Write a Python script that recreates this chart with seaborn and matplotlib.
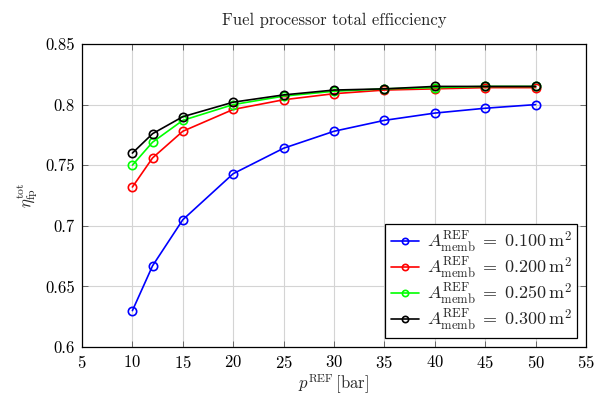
import pandas as pd
import seaborn as sns
import matplotlib.pyplot as plt
from matplotlib.ticker import FuncFormatter, MultipleLocator

# pressure points [bar]
p_ref = [10, 12, 15, 20, 25, 30, 35, 40, 45, 50]

# total efficiency per membrane area
eta_a100 = [0.630, 0.667, 0.705, 0.743, 0.764, 0.778, 0.787, 0.793, 0.797, 0.800]
eta_a200 = [0.732, 0.756, 0.778, 0.796, 0.804, 0.809, 0.812, 0.813, 0.814, 0.814]
eta_a250 = [0.750, 0.769, 0.787, 0.800, 0.807, 0.811, 0.813, 0.814, 0.815, 0.815]
eta_a300 = [0.760, 0.776, 0.790, 0.802, 0.808, 0.812, 0.813, 0.815, 0.815, 0.815]

areas = ['0.100', '0.200', '0.250', '0.300']
series = [eta_a100, eta_a200, eta_a250, eta_a300]
colors = ['#0000ff', '#ff0000', '#00ff00', '#000000']

sns.set_style('whitegrid')
plt.rcParams['font.family'] = 'serif'
plt.rcParams['font.serif'] = ['cmr10', 'DejaVu Serif']
plt.rcParams['mathtext.fontset'] = 'cm'
plt.rcParams['axes.formatter.use_mathtext'] = True

fig = plt.figure(figsize=(5.96, 3.96), dpi=100)
ax = fig.add_axes([82 / 596, 1 - 347 / 396, 504 / 596, 303 / 396])

for area, eta, col in zip(areas, series, colors):
    df = pd.DataFrame({'p': p_ref, 'eta': eta})
    sns.lineplot(data=df, x='p', y='eta', ax=ax, color=col, linewidth=1.2,
                 marker='o', markersize=6, markerfacecolor='none',
                 markeredgecolor=col, markeredgewidth=1.2,
                 label=r'$A_{\mathrm{memb}}^{\mathrm{REF}}\;=\;' + area + r'\,\mathrm{m}^2$')

ax.set_xlim(5, 55)
ax.set_ylim(0.6, 0.85)
ax.xaxis.set_major_locator(MultipleLocator(5))
ax.yaxis.set_major_locator(MultipleLocator(0.05))
ax.yaxis.set_major_formatter(FuncFormatter(lambda v, pos: '%g' % round(v, 3)))

ax.grid(True, color='#d4d4d4', linewidth=0.8)
for s in ax.spines.values():
    s.set_color('black')
    s.set_linewidth(0.9)
ax.tick_params(direction='in', length=4, width=0.6, color='#555555',
               top=True, right=True, bottom=True, left=True,
               labelsize=12, labelcolor='black', pad=5)

ax.set_xlabel(r'$p^{\mathrm{REF}}\,[\mathrm{bar}]$', fontsize=12, labelpad=1)
ax.set_ylabel(r'$\eta_{\mathrm{fp}}^{\mathrm{tot}}$', fontsize=12, labelpad=4)
ax.set_title('Fuel processor total efficciency', fontsize=12, pad=14)

leg = ax.legend(loc='lower right', fontsize=13, frameon=True, fancybox=False,
                framealpha=1, edgecolor='black', handlelength=1.6,
                markerscale=0.75, borderpad=0.3, labelspacing=0.05,
                handletextpad=0.4, borderaxespad=0.5)
leg.get_frame().set_linewidth(0.9)

fig.savefig('out.png', dpi=100)
